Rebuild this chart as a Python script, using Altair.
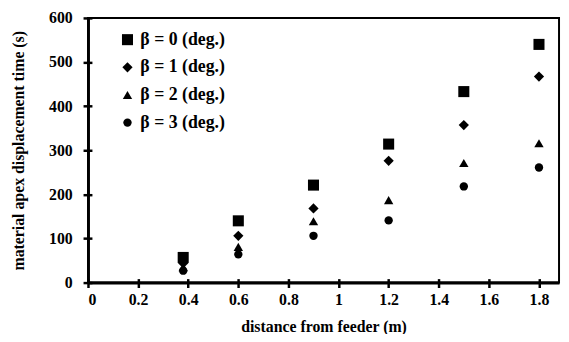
import altair as alt
import pandas as pd

distances = [0.38, 0.6, 0.9, 1.2, 1.5, 1.8]
beta0 = [57, 140, 221, 314, 433, 540]
beta1 = [44, 106, 168, 276, 357, 467]
beta2 = [35, 81, 139, 187, 271, 316]
beta3 = [27, 64, 106, 141, 218, 261]
series_names = ["β = 0 (deg.)", "β = 1 (deg.)", "β = 2 (deg.)", "β = 3 (deg.)"]
shapes = ["square", "diamond", "triangle-up", "circle"]
sizes = [125, 72, 105, 125]
x_ticks = [0, 0.2, 0.4, 0.6, 0.8, 1, 1.2, 1.4, 1.6, 1.8]
y_ticks = [0, 100, 200, 300, 400, 500, 600]

rows = []
for name, vals in zip(series_names, [beta0, beta1, beta2, beta3]):
    for d, v in zip(distances, vals):
        rows.append({"distance": d, "time": v, "series": name})
df = pd.DataFrame(rows)

font = "Liberation Serif"

legend = alt.Legend(title=None, orient="none", legendX=31, legendY=13,
                    labelFont=font, labelFontSize=18, labelFontWeight="bold",
                    labelColor="black", rowPadding=10, symbolFillColor="black",
                    symbolStrokeColor="black", labelOffset=4)

xscale = alt.Scale(domain=[0, 1.88], nice=False)
yscale = alt.Scale(domain=[0, 600], nice=False)

points = alt.Chart(df).mark_point(filled=True, color="black", opacity=1).encode(
    x=alt.X("distance:Q", scale=xscale,
            axis=alt.Axis(title="distance from feeder (m)", values=x_ticks, orient="bottom",
                          format="~g", grid=False, domainWidth=3, tickWidth=2.5, tickSize=5,
                          labelPadding=4, titlePadding=12)),
    y=alt.Y("time:Q", scale=yscale,
            axis=alt.Axis(title="material apex displacement time (s)", values=y_ticks, orient="left",
                          grid=False, domainWidth=3, tickWidth=2.5, tickSize=5,
                          labelPadding=11, titlePadding=22)),
    shape=alt.Shape("series:N", scale=alt.Scale(domain=series_names, range=shapes), legend=legend),
    size=alt.Size("series:N", scale=alt.Scale(domain=series_names, range=sizes), legend=legend),
)

inner_ticks = alt.Chart(df).mark_point(opacity=0, size=0).encode(
    x=alt.X("distance:Q", scale=xscale,
            axis=alt.Axis(title=None, values=x_ticks, orient="bottom", labels=False, domain=False,
                          grid=False, tickWidth=2.5, tickSize=4, offset=-4)),
    y=alt.Y("time:Q", scale=yscale,
            axis=alt.Axis(title=None, values=y_ticks, orient="left", labels=False, domain=False,
                          grid=False, tickWidth=2.5, tickSize=4, offset=-4)),
)

chart = alt.layer(points, inner_ticks).resolve_axis(x="independent", y="independent").properties(
    width=477, height=268,
    autosize=alt.AutoSizeParams(type="none"),
    padding={"left": 81, "top": 8, "right": 2, "bottom": 50},
).configure_view(
    stroke="black", strokeWidth=2
).configure_axis(
    domainColor="black", tickColor="black", labelColor="black", titleColor="black",
    labelFont=font, titleFont=font, labelFontSize=16, titleFontSize=16,
    labelFontWeight="bold", titleFontWeight="bold"
)

chart.save("out.html", embed_options={"renderer": "svg", "actions": False})
